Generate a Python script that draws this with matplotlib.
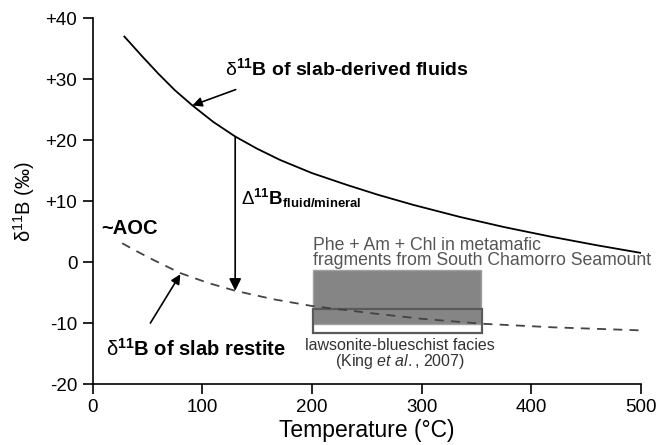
import numpy as np
import matplotlib
matplotlib.use("Agg")
import matplotlib.pyplot as plt
from matplotlib.patches import Rectangle

plt.rcParams['font.family'] = ['Liberation Sans', 'DejaVu Sans']
plt.rcParams['mathtext.fontset'] = 'custom'
plt.rcParams['mathtext.rm'] = 'Liberation Sans'
plt.rcParams['mathtext.it'] = 'Liberation Sans:italic'
plt.rcParams['mathtext.bf'] = 'Liberation Sans:bold'

# curva de fluidos (solida)
temp_fluid = [29, 45, 60, 75, 91, 110, 130, 150, 171, 200, 232, 260, 292, 335, 375, 417, 460, 500]
d11b_fluid = [37.0, 33.8, 30.9, 28.2, 25.7, 23.0, 20.6, 18.6, 16.75, 14.6, 12.65, 11.05, 9.4, 7.4, 5.75, 4.2, 2.75, 1.5]

# curva de restita (discontinua)
temp_restite = [27, 40, 55, 80, 105, 130, 165, 200, 255, 300, 354, 420, 500]
d11b_restite = [3.1, 1.8, 0.4, -1.8, -3.4, -4.7, -6.1, -7.2, -8.4, -9.3, -10.1, -10.7, -11.2]

# cajas (T min, T max, d11B min, d11B max)
caja_chamorro = [200.5, 354, -10.1, -1.3]
caja_king = [200.5, 355, -11.7, -7.7]

xticks = [0, 100, 200, 300, 400, 500]
yticks = [-20, -10, 0, 10, 20, 30, 40]
ytick_labels = ['-20', '-10', '0', '+10', '+20', '+30', '+40']

fig = plt.figure(figsize=(6.61, 4.45), dpi=100)
ax = fig.add_axes([0.140, 0.137, 0.830, 0.822])

# cajas
ax.add_patch(Rectangle((caja_chamorro[0], caja_chamorro[2]), caja_chamorro[1] - caja_chamorro[0],
                       caja_chamorro[3] - caja_chamorro[2], facecolor='#858585', edgecolor='#a0a0a0',
                       lw=1.0, zorder=1))
ax.add_patch(Rectangle((caja_king[0], caja_king[2]), caja_king[1] - caja_king[0],
                       caja_king[3] - caja_king[2], facecolor='none', edgecolor='#5a5a5a',
                       lw=1.6, zorder=2))

ax.plot(temp_fluid, d11b_fluid, color='black', lw=1.3, zorder=3)
ax.plot(temp_restite, d11b_restite, color='#444444', lw=1.3, dashes=(5, 4), zorder=3)

# flechas
arr = dict(arrowstyle='-|>', color='black', lw=1.2, mutation_scale=14, shrinkA=0, shrinkB=0)
ax.annotate('', xy=(130, 20.6), xytext=(130, -4.7), arrowprops=dict(arr, arrowstyle='<|-', mutation_scale=18), zorder=4)
ax.annotate('', xy=(91, 25.7), xytext=(130.5, 28.3), arrowprops=arr, zorder=4)
ax.annotate('', xy=(80, -2.0), xytext=(52.7, -10.0), arrowprops=arr, zorder=4)

# textos
ax.text(120.5, 31.8, r'$\mathrm{\delta}^{\mathbf{11}}$B of slab-derived fluids', fontsize=14, fontweight='bold',
        ha='left', va='center')
ax.text(135, 10.4, r'$\mathrm{\Delta}^{\mathbf{11}}$B$_{\mathbf{fluid/mineral}}$', fontsize=13.5, fontweight='bold',
        ha='left', va='center')
ax.text(8, 5.5, '~AOC', fontsize=14.5, fontweight='bold', ha='left', va='center')
ax.text(12, -14.2, r'$\mathrm{\delta}^{\mathbf{11}}$B of slab restite', fontsize=14.5, fontweight='bold',
        ha='left', va='center')
ax.text(201, 1.55, 'Phe + Am + Chl in metamafic\nfragments from South Chamorro Seamount',
        fontsize=12.7, color='#555555', ha='left', va='center', linespacing=0.85)
ax.text(280, -15.1, 'lawsonite-blueschist facies\n' + r'(King $\mathit{et\ al.}$, 2007)',
        fontsize=11.5, color='#333333', ha='center', va='center', linespacing=0.95, multialignment='center')

ax.set_xlim(0, 500)
ax.set_ylim(-20, 40)
ax.set_xticks(xticks)
ax.set_yticks(yticks)
ax.set_yticklabels(ytick_labels)
ax.tick_params(direction='out', length=7, width=1.2, labelsize=13.5, pad=4)
for s in ['top', 'right']:
    ax.spines[s].set_visible(False)
for s in ['left', 'bottom']:
    ax.spines[s].set_linewidth(1.2)

ax.set_xlabel('Temperature (°C)', fontsize=16.5, labelpad=2)
ax.set_ylabel(r'$\mathrm{\delta}^{11}$B (‰)', fontsize=14.5, labelpad=6)

fig.savefig('out.png', dpi=100)
